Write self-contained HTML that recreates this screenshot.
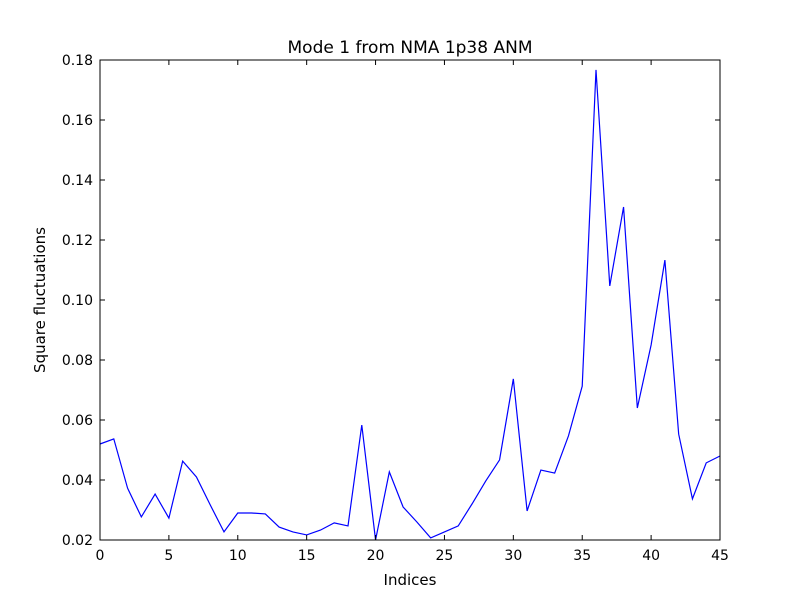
<!DOCTYPE html>
<html><head><meta charset="utf-8"><style>
body{margin:0;background:#fff;}
svg text{font-family:"DejaVu Sans","Liberation Sans",sans-serif;fill:#000;}
</style></head><body>
<svg id="chart" width="800" height="600" xmlns="http://www.w3.org/2000/svg">
<rect width="800" height="600" fill="#fff"/>
<g id="axes"></g>
<text x="410" y="53" font-size="17" text-anchor="middle">Mode 1 from NMA 1p38 ANM</text>
<text x="410" y="585" font-size="15" text-anchor="middle">Indices</text>
<text transform="translate(45,300) rotate(-90)" font-size="15" text-anchor="middle">Square fluctuations</text>
</svg>
<script>
const values=[0.052,0.0537,0.0373,0.0277,0.0353,0.0273,0.0463,0.041,0.0317,0.0227,0.029,0.029,0.0287,0.0243,0.0227,0.0217,0.0233,0.0257,0.0247,0.0583,0.020,0.0427,0.031,0.026,0.0207,0.0227,0.0247,0.032,0.0397,0.0467,0.0737,0.0297,0.0433,0.0423,0.0547,0.0713,0.1767,0.1047,0.131,0.064,0.085,0.1133,0.0553,0.0337,0.0457,0.048];
const xTicks=[0,5,10,15,20,25,30,35,40,45];
const yTicks=[0.02,0.04,0.06,0.08,0.10,0.12,0.14,0.16,0.18];
const yLabels=["0.02","0.04","0.06","0.08","0.10","0.12","0.14","0.16","0.18"];
const L=100,R=720,T=60,B=540,xmin=0,xmax=45,ymin=0.02,ymax=0.18;
const sx=v=>L+(v-xmin)/(xmax-xmin)*(R-L);
const sy=v=>B-(v-ymin)/(ymax-ymin)*(B-T);
const NS="http://www.w3.org/2000/svg";
const g=document.getElementById('axes');
function mk(t,a){const e=document.createElementNS(NS,t);for(const k in a)e.setAttribute(k,a[k]);g.appendChild(e);return e;}
let d=values.map((v,i)=>(i?'L':'M')+sx(i).toFixed(2)+','+sy(v).toFixed(2)).join('');
const line=mk('path',{d:d,fill:'none',stroke:'#0000ff','stroke-width':1.2});


xTicks.forEach(v=>{
  const x=sx(v);
  const t1=mk('line',{x1:x,x2:x,y1:B,y2:B-5,stroke:'#000'});
  
  
  mk('line',{x1:x,x2:x,y1:T,y2:T+5,stroke:'#000'});
  const tx=mk('text',{x:x,y:B+20,'font-size':14,'text-anchor':'middle'});
  tx.textContent=v;
  
  
});
yTicks.forEach((v,i)=>{
  const y=sy(v);
  const t1=mk('line',{x1:L,x2:L+5,y1:y,y2:y,stroke:'#000'});
  
  
  mk('line',{x1:R,x2:R-5,y1:y,y2:y,stroke:'#000'});
  const tx=mk('text',{x:L-7,y:y+5,'font-size':14,'text-anchor':'end'});
  tx.textContent=yLabels[i];
  
  
});
const fr=mk('rect',{x:L,y:T,width:R-L,height:B-T,fill:'none',stroke:'#000','stroke-width':1});


</script>
</body></html>
